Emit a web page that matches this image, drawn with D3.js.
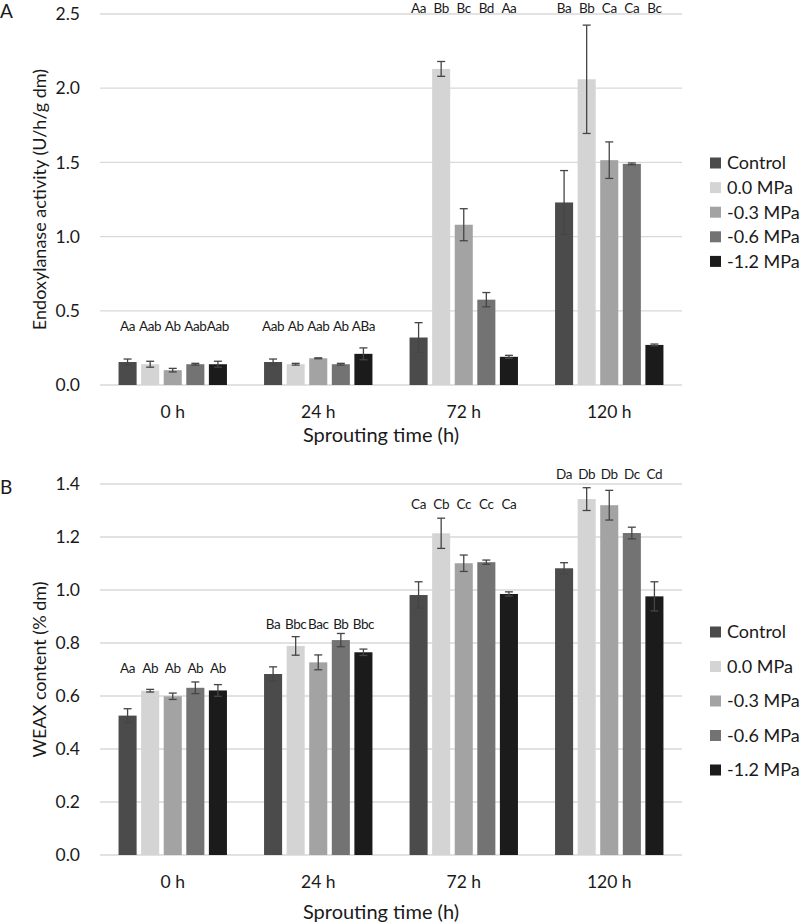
<!DOCTYPE html>
<html><head><meta charset="utf-8">
<script src="https://cdn.jsdelivr.net/npm/d3@7"></script>
<style>
body{margin:0;background:#fff;}
svg{font-family:Lato,"Open Sans",sans-serif;}
</style></head>
<body><svg id="c" width="800" height="924"></svg>
<script>
const categories = ["0 h","24 h","72 h","120 h"];
const seriesNames = ["Control","0.0 MPa","-0.3 MPa","-0.6 MPa","-1.2 MPa"];
const seriesColors = ["#4b4b4b","#d4d4d4","#a3a3a3","#737373","#1b1b1b"];

// Panel A: endoxylanase activity (U/h/g dm), rows = series, cols = categories
const endoValues = [
  [0.155, 0.155, 0.32, 1.23],
  [0.14, 0.14, 2.13, 2.06],
  [0.10, 0.18, 1.08, 1.515],
  [0.14, 0.14, 0.575, 1.49],
  [0.14, 0.21, 0.19, 0.27]
];
const endoErrors = [
  [0.02, 0.02, 0.10, 0.215],
  [0.02, 0.006, 0.05, 0.365],
  [0.012, 0.003, 0.108, 0.123],
  [0.006, 0.006, 0.048, 0.006],
  [0.02, 0.04, 0.01, 0.006]
];
const endoLetters = [
  ["Aa","Aab","Aa","Ba"],
  ["Aab","Ab","Bb","Bb"],
  ["Ab","Aab","Bc","Ca"],
  ["Aab","Ab","Bd","Ca"],
  ["Aab","ABa","Aa","Bc"]
];
const endoLetterLevel = [0.393, 0.393, 2.54, 2.54];
const endoTicks = [0, 0.5, 1.0, 1.5, 2.0, 2.5];

// Panel B: WEAX content (% dm)
const weaxValues = [
  [0.526, 0.683, 0.981, 1.082],
  [0.62, 0.789, 1.214, 1.343],
  [0.599, 0.727, 1.101, 1.32],
  [0.631, 0.811, 1.105, 1.215],
  [0.621, 0.765, 0.985, 0.976]
];
const weaxErrors = [
  [0.026, 0.027, 0.05, 0.021],
  [0.005, 0.035, 0.057, 0.043],
  [0.012, 0.028, 0.031, 0.056],
  [0.022, 0.025, 0.008, 0.022],
  [0.022, 0.012, 0.008, 0.055]
];
const weaxLetters = [
  ["Aa","Ba","Ca","Da"],
  ["Ab","Bbc","Cb","Db"],
  ["Ab","Bac","Cc","Db"],
  ["Ab","Bb","Cc","Dc"],
  ["Ab","Bbc","Ca","Cd"]
];
const weaxLetterLevel = [0.705, 0.871, 1.323, 1.437];
const weaxTicks = [0, 0.2, 0.4, 0.6, 0.8, 1.0, 1.2, 1.4];

const svg = d3.select("#c");
const txt = "#1a1a1a";

function panel(cfg){
  const g = svg.append("g");
  const x0 = d3.scaleBand().domain(categories).range([100, 682]).paddingInner(0.255).paddingOuter(0.1275);
  const x1 = d3.scaleBand().domain(seriesNames).range([0, x0.bandwidth()]).paddingInner(0.2).paddingOuter(0);
  const y = d3.scaleLinear().domain([0, cfg.max]).range([cfg.y0, cfg.yTop]);

  // gridlines
  g.append("g").selectAll("line").data(cfg.ticks).join("line")
    .attr("x1",100).attr("x2",682)
    .attr("y1",d=>y(d)).attr("y2",d=>y(d))
    .attr("stroke","#d9d9d9").attr("stroke-width",1.3);

  // y axis labels
  const ya = d3.axisLeft(y).tickValues(cfg.ticks).tickFormat(d3.format(".1f")).tickSize(0).tickPadding(0);
  const yg = g.append("g").attr("transform","translate(80,0)").call(ya);
  yg.select(".domain").remove();
  yg.selectAll("text").attr("font-size",17.5).attr("fill",txt).attr("font-family","Lato,sans-serif");

  // x axis labels
  const xa = d3.axisBottom(x0).tickSize(0).tickPadding(0);
  const xg = g.append("g").attr("transform",`translate(0,${cfg.catY})`).call(xa);
  xg.select(".domain").remove();
  xg.selectAll("text").attr("font-size",17.5).attr("fill",txt).attr("font-family","Lato,sans-serif").attr("dy","0.35em");

  // bars
  seriesNames.forEach((s,si)=>{
    const sg = g.append("g");
    sg.selectAll("rect").data(categories).join("rect")
      .attr("x",c=>x0(c)+x1(s))
      .attr("width",x1.bandwidth())
      .attr("y",(c,ci)=>y(cfg.values[si][ci]))
      .attr("height",(c,ci)=>y(0)-y(cfg.values[si][ci]))
      .attr("fill",seriesColors[si]);
  });
  // error bars
  seriesNames.forEach((s,si)=>{
    const eg = g.append("g").attr("stroke","#454545").attr("stroke-width",1.3);
    categories.forEach((c,ci)=>{
      const cx = x0(c)+x1(s)+x1.bandwidth()/2;
      const v = cfg.values[si][ci], e = cfg.errors[si][ci];
      const yt = y(v+e), yb = y(v-e);
      eg.append("line").attr("x1",cx).attr("x2",cx).attr("y1",yt).attr("y2",yb);
      eg.append("line").attr("x1",cx-4).attr("x2",cx+4).attr("y1",yt).attr("y2",yt);
      eg.append("line").attr("x1",cx-4).attr("x2",cx+4).attr("y1",yb).attr("y2",yb);
    });
  });
  // letters
  seriesNames.forEach((s,si)=>{
    g.append("g").selectAll("text").data(categories).join("text")
      .attr("x",c=>x0(c)+x1(s)+x1.bandwidth()/2)
      .attr("y",(c,ci)=>y(cfg.letterLevel[ci]))
      .attr("dy","0.35em").attr("text-anchor","middle")
      .attr("font-size",13.5).attr("letter-spacing",-0.4).attr("fill",txt)
      .text((c,ci)=>cfg.letters[si][ci]);
  });

  // axis titles
  g.append("text").attr("transform",`translate(${cfg.ylabX},${(cfg.y0+cfg.yTop)/2}) rotate(-90)`)
    .attr("text-anchor","middle").attr("dy","0.35em").attr("font-size",18).attr("fill",txt).text(cfg.ylabel);
  g.append("text").attr("x",381).attr("y",cfg.titleY).attr("dy","0.35em").attr("text-anchor","middle")
    .attr("font-size",20).attr("fill",txt).text("Sprouting  time (h)");
  g.append("text").attr("x",0).attr("y",cfg.letterY).attr("dy","0.35em").attr("font-size",19).attr("fill",txt).text(cfg.panel);

  // legend
  const lg = g.append("g");
  seriesNames.forEach((s,si)=>{
    const ly = cfg.legY + si*cfg.legStep;
    lg.append("rect").attr("x",710).attr("y",ly-5.5).attr("width",11).attr("height",11).attr("fill",seriesColors[si]);
    lg.append("text").attr("x",727).attr("y",ly).attr("dy","0.35em").attr("font-size",18).attr("fill",txt).text(s);
  });
}

panel({values:endoValues, errors:endoErrors, letters:endoLetters, letterLevel:endoLetterLevel,
  ticks:endoTicks, max:2.5, y0:385, yTop:14, catY:412, titleY:435, ylabX:40,
  ylabel:"Endoxylanase activity (U/h/g dm)", panel:"A", letterY:11, legY:163, legStep:24.6});
panel({values:weaxValues, errors:weaxErrors, letters:weaxLetters, letterLevel:weaxLetterLevel,
  ticks:weaxTicks, max:1.4, y0:855, yTop:484, catY:882, titleY:912, ylabX:40,
  ylabel:"WEAX content (% dm)", panel:"B", letterY:487, legY:632, legStep:34.5});
</script>
</body></html>
